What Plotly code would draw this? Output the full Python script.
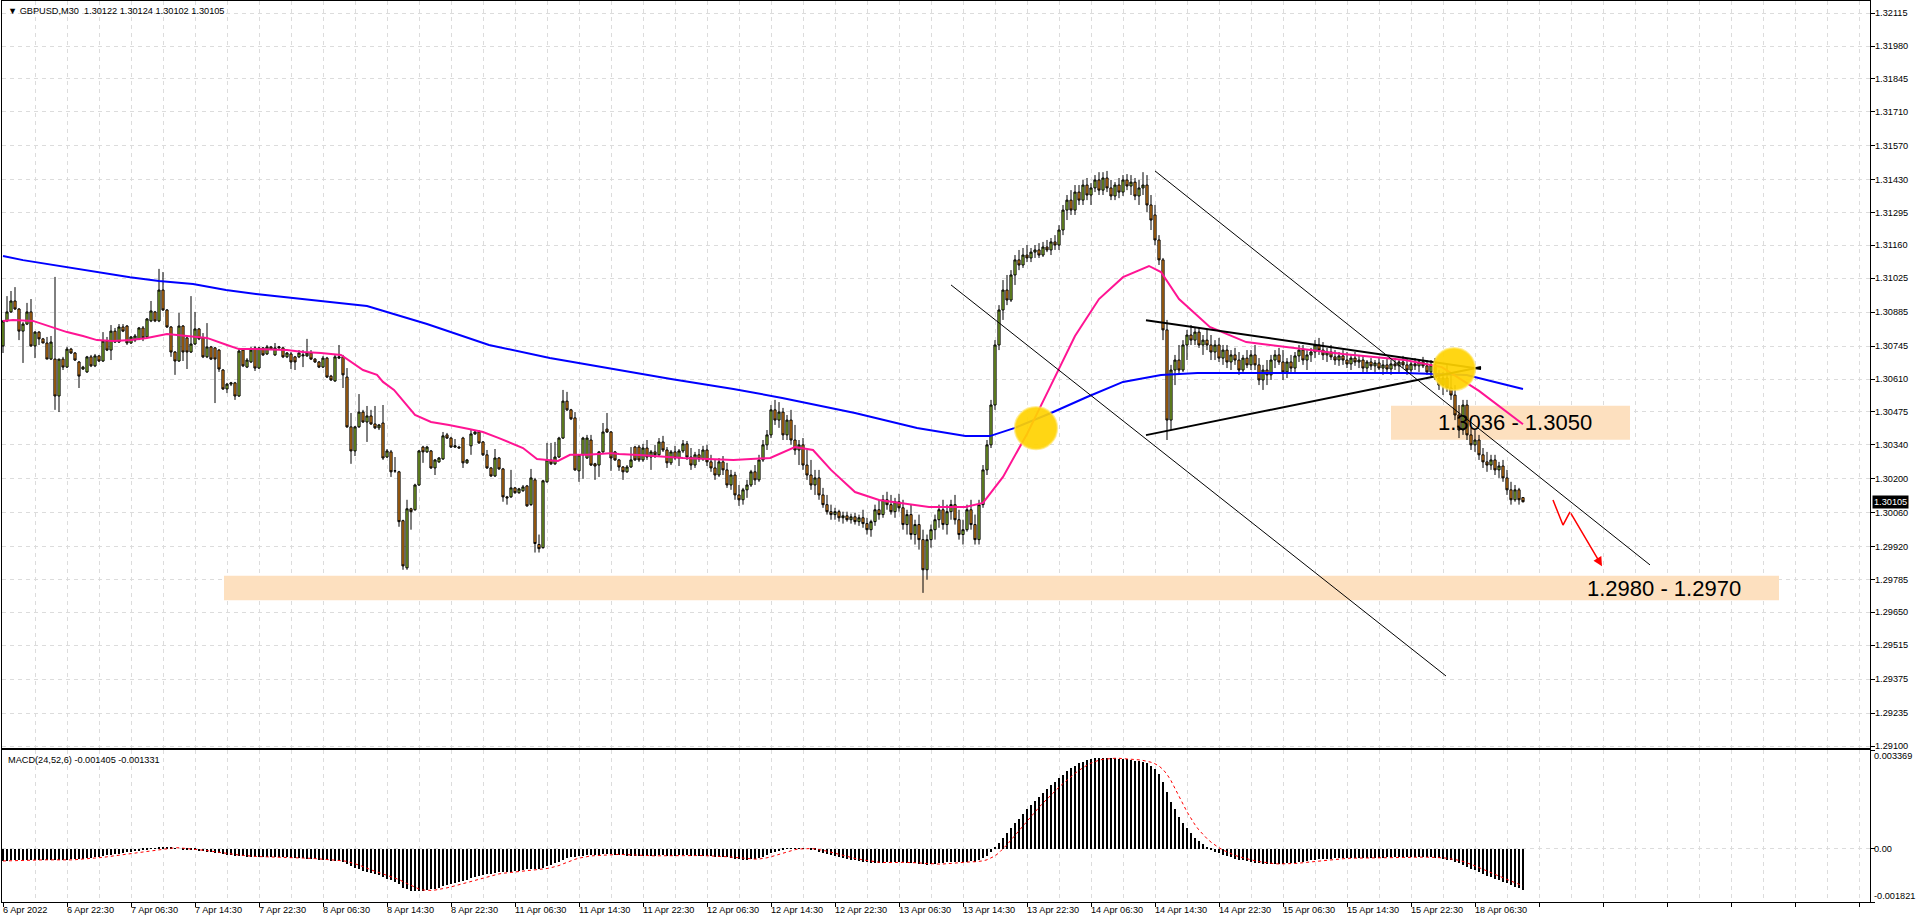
import plotly.graph_objects as go
import pandas as pd

# ---------------- data (prices given as points, 1 point = 0.00001, relative to 1.30000) ----------------
BASE = 1.30000

o_pts = [
    746, 849, 886, 931, 898, 807, 836, 886, 746, 803,
    775, 758, 692, 692, 540, 692, 659, 733, 717, 680,
    651, 639, 701, 664, 705, 684, 766, 729, 807, 762,
    824, 828, 758, 770, 775, 820, 783, 849, 886, 849,
    976, 894, 824, 721, 684, 828, 779, 721, 754, 816,
    779, 701, 742, 738, 729, 647, 569, 589, 594, 540,
    729, 659, 680, 738, 655, 738, 713, 742, 709, 738,
    738, 701, 713, 701, 701, 705, 705, 717, 692, 680,
    659, 696, 622, 602, 696, 701, 618, 413, 314, 413,
    474, 433, 458, 425, 409, 429, 289, 310, 232, 228,
    27, -167, 76, 72, 174, 330, 310, 314, 244, 269,
    281, 380, 367, 330, 330, 367, 265, 335, 384, 392,
    351, 298, 244, 211, 285, 240, 125, 125, 162, 142,
    150, 170, 93, 195, -71, -84, 187, 277, 261, 289,
    367, 519, 483, 450, 232, 298, 285, 359, 261, 256,
    310, 404, 392, 310, 277, 248, 228, 248, 330, 330,
    277, 326, 289, 310, 298, 351, 318, 265, 310, 285,
    314, 343, 289, 256, 298, 281, 318, 269, 244, 215,
    269, 236, 174, 215, 133, 113, 154, 174, 228, 195,
    277, 339, 380, 483, 441, 474, 380, 441, 359, 318,
    339, 256, 215, 174, 203, 133, 93, 64, 52, 64,
    39, 47, 31, 43, 23, 39, 15, -10, 23, 72,
    52, 113, 93, 64, 105, 80, 11, 52, -30, 11,
    -51, -175, -51, -10, 31, 72, 11, 64, 93, 31,
    -30, -10, 72, 11, -51, 93, 236, 339, 503, 750,
    894, 976, 935, 1038, 1100, 1079, 1120, 1108, 1132, 1141,
    1120, 1153, 1141, 1174, 1161, 1223, 1305, 1346, 1305, 1379,
    1346, 1408, 1367, 1396, 1429, 1387, 1437, 1396, 1363, 1408,
    1379, 1429, 1404, 1420, 1363, 1396, 1408, 1326, 1285, 1182,
    1100, 812, 441, 647, 688, 647, 750, 791, 770, 803,
    750, 770, 750, 721, 750, 696, 729, 680, 709, 688,
    647, 696, 668, 709, 668, 606, 647, 627, 688, 709,
    680, 639, 680, 655, 705, 729, 688, 709, 721, 750,
    729, 709, 721, 701, 688, 705, 688, 672, 696, 680,
    688, 655, 680, 664, 676, 655, 668, 651, 672, 664,
    680, 668, 647, 672, 664, 680, 664, 639, 668, 614,
    585, 614, 573, 544, 462, 400, 503, 380, 339, 359,
    298, 269, 256, 277, 236, 252, 203, 154, 113, 154,
    122,
]

h_pts = [
    849, 951, 972, 988, 902, 844, 923, 939, 807, 807,
    779, 783, 787, 1030, 692, 701, 742, 738, 721, 684,
    664, 705, 709, 713, 709, 803, 783, 832, 820, 836,
    836, 832, 787, 795, 824, 828, 861, 931, 890, 1063,
    1050, 898, 828, 725, 882, 832, 783, 951, 886, 820,
    799, 840, 746, 742, 733, 651, 594, 598, 598, 738,
    733, 696, 742, 746, 742, 742, 750, 746, 758, 746,
    742, 721, 721, 705, 729, 729, 775, 729, 696, 684,
    705, 701, 627, 709, 750, 709, 655, 470, 417, 548,
    483, 499, 483, 499, 425, 503, 322, 318, 289, 232,
    31, 113, 80, 179, 318, 335, 335, 318, 281, 289,
    392, 388, 372, 363, 335, 372, 281, 404, 400, 400,
    355, 318, 248, 322, 289, 244, 129, 236, 166, 162,
    174, 174, 240, 203, -30, 195, 347, 347, 351, 372,
    565, 557, 487, 474, 298, 372, 380, 380, 265, 314,
    429, 470, 396, 314, 281, 252, 256, 330, 335, 339,
    343, 359, 318, 339, 367, 376, 330, 318, 335, 322,
    359, 355, 326, 310, 322, 335, 339, 298, 277, 285,
    293, 265, 236, 228, 174, 162, 195, 236, 256, 298,
    359, 400, 503, 524, 515, 491, 462, 483, 421, 359,
    367, 318, 277, 236, 236, 162, 133, 93, 80, 72,
    64, 64, 56, 60, 52, 72, 39, 31, 93, 113,
    133, 146, 133, 121, 138, 113, 72, 93, 31, 52,
    -10, -30, 11, 52, 93, 113, 93, 113, 133, 72,
    31, 93, 113, 52, 113, 256, 359, 524, 770, 914,
    1017, 1038, 1058, 1120, 1141, 1149, 1161, 1149, 1161, 1169,
    1174, 1182, 1190, 1202, 1243, 1326, 1367, 1387, 1408, 1408,
    1429, 1437, 1416, 1449, 1461, 1461, 1466, 1429, 1420, 1437,
    1449, 1453, 1449, 1437, 1429, 1461, 1449, 1367, 1326, 1202,
    1108, 853, 668, 709, 750, 770, 812, 832, 820, 820,
    791, 812, 791, 770, 779, 750, 750, 729, 738, 721,
    709, 729, 729, 750, 696, 668, 688, 709, 729, 738,
    729, 696, 709, 721, 750, 750, 729, 738, 770, 779,
    762, 738, 750, 729, 721, 729, 721, 709, 721, 709,
    705, 688, 696, 688, 696, 688, 696, 688, 696, 688,
    705, 696, 680, 696, 688, 701, 688, 688, 696, 647,
    639, 668, 627, 585, 503, 524, 524, 409, 400, 380,
    326, 310, 298, 298, 269, 277, 236, 187, 174, 162,
    124,
]

l_pts = [
    717, 844, 882, 894, 770, 676, 832, 742, 696, 750,
    758, 692, 688, 483, 474, 647, 655, 713, 684, 573,
    647, 635, 659, 659, 680, 680, 725, 688, 758, 758,
    803, 750, 754, 762, 770, 766, 779, 844, 844, 844,
    890, 820, 701, 627, 680, 684, 651, 717, 750, 770,
    696, 696, 688, 511, 639, 565, 552, 581, 524, 536,
    659, 655, 676, 643, 651, 705, 709, 729, 705, 733,
    696, 696, 651, 647, 696, 659, 701, 688, 676, 655,
    655, 614, 602, 598, 692, 573, 409, 261, 293, 409,
    429, 351, 421, 404, 400, 277, 285, 207, 224, 2,
    -175, -175, -10, 68, 170, 265, 306, 240, 215, 265,
    277, 363, 326, 326, 326, 244, 261, 298, 380, 343,
    293, 240, 207, 207, 236, 105, 93, 121, 138, 138,
    146, 84, 88, -104, -104, -88, 183, 256, 256, 285,
    363, 478, 441, 232, 187, 199, 281, 252, 195, 207,
    306, 388, 232, 273, 232, 195, 224, 244, 273, 269,
    269, 277, 236, 285, 293, 310, 244, 256, 277, 252,
    306, 277, 236, 244, 269, 273, 252, 228, 195, 207,
    215, 162, 154, 113, 88, 93, 121, 166, 174, 187,
    269, 318, 367, 421, 409, 359, 359, 339, 298, 256,
    236, 195, 154, 133, 113, 80, 52, 31, 31, 23,
    15, 23, 15, 11, 6, -2, -30, -39, 6, 31,
    39, 72, 52, 39, 64, -10, -30, -51, -71, -92,
    -270, -216, -84, -51, -2, -10, -30, 31, 11, -51,
    -71, -18, -10, -71, -71, 80, 215, 326, 483, 729,
    853, 914, 927, 997, 1058, 1067, 1091, 1091, 1108, 1108,
    1112, 1132, 1120, 1141, 1141, 1202, 1264, 1285, 1285, 1326,
    1326, 1346, 1326, 1379, 1367, 1367, 1379, 1346, 1346, 1354,
    1363, 1387, 1367, 1346, 1326, 1367, 1297, 1223, 1161, 1079,
    770, 359, 400, 585, 627, 639, 688, 750, 750, 738,
    709, 729, 688, 688, 680, 668, 655, 647, 668, 627,
    639, 655, 647, 647, 585, 565, 585, 606, 655, 668,
    606, 614, 639, 639, 680, 668, 647, 680, 696, 709,
    688, 680, 688, 668, 664, 668, 655, 647, 664, 655,
    639, 639, 647, 639, 647, 627, 639, 627, 647, 639,
    655, 627, 631, 647, 639, 655, 627, 622, 606, 565,
    544, 557, 524, 441, 367, 380, 359, 318, 310, 277,
    244, 228, 236, 215, 203, 187, 133, 93, 105, 93,
    102,
]

c_pts = [
    849, 886, 931, 898, 807, 836, 886, 746, 803, 775,
    758, 692, 762, 540, 692, 659, 733, 717, 688, 622,
    659, 701, 664, 705, 684, 766, 729, 807, 762, 824,
    807, 758, 783, 787, 820, 779, 857, 890, 849, 976,
    894, 824, 721, 684, 828, 721, 721, 754, 816, 775,
    701, 742, 692, 692, 651, 569, 589, 594, 540, 725,
    664, 688, 729, 655, 738, 709, 742, 733, 738, 742,
    701, 717, 680, 680, 717, 709, 717, 692, 680, 659,
    696, 618, 606, 701, 701, 627, 413, 314, 413, 474,
    433, 458, 425, 409, 421, 285, 314, 228, 232, 23,
    -159, 76, 64, 174, 314, 310, 330, 244, 277, 285,
    376, 367, 330, 335, 326, 265, 277, 384, 392, 347,
    298, 244, 211, 285, 240, 125, 121, 162, 142, 158,
    166, 88, 203, -67, -88, 191, 277, 261, 289, 367,
    519, 483, 446, 236, 298, 367, 367, 256, 252, 310,
    392, 392, 285, 277, 248, 228, 248, 277, 277, 277,
    326, 289, 310, 298, 351, 318, 265, 310, 285, 314,
    343, 289, 256, 298, 281, 318, 269, 244, 215, 269,
    236, 174, 215, 133, 113, 154, 174, 228, 195, 277,
    339, 380, 483, 441, 474, 380, 441, 359, 318, 339,
    256, 215, 174, 203, 133, 93, 64, 52, 64, 39,
    47, 31, 43, 23, 39, 15, -10, 23, 72, 52,
    113, 93, 64, 105, 80, 11, 52, -30, 11, -51,
    -175, -51, -10, 31, 72, 11, 64, 93, 31, -30,
    -10, 72, 11, -51, 93, 236, 339, 503, 750, 894,
    976, 935, 1038, 1100, 1079, 1120, 1108, 1132, 1141, 1120,
    1153, 1141, 1174, 1161, 1223, 1305, 1346, 1305, 1379, 1346,
    1408, 1367, 1396, 1429, 1387, 1437, 1396, 1363, 1408, 1379,
    1429, 1404, 1420, 1363, 1396, 1408, 1326, 1264, 1182, 1100,
    812, 441, 647, 688, 647, 750, 791, 770, 803, 750,
    770, 750, 721, 750, 696, 729, 680, 709, 688, 647,
    696, 668, 709, 668, 606, 647, 627, 688, 709, 680,
    639, 680, 655, 705, 729, 688, 709, 721, 750, 729,
    709, 721, 701, 688, 705, 688, 672, 696, 680, 688,
    655, 680, 664, 676, 655, 668, 651, 672, 664, 680,
    668, 647, 672, 664, 680, 664, 639, 668, 614, 585,
    614, 573, 544, 462, 400, 503, 380, 339, 359, 298,
    269, 256, 277, 236, 252, 203, 154, 113, 154, 113,
    105,
]

# moving averages (bar index, points)
pink_x = [0, 2.5, 7.5, 12, 16, 20, 23.5, 27.5, 32, 36,
          41, 46, 51, 56, 59, 63, 71, 75, 79.5, 84.5,
          87, 90, 93.5, 95, 97.75, 100.5, 103, 107, 111.5, 116.5,
          120, 124, 127, 130, 133.5, 138.75, 141.75, 146, 151.75, 154,
          159, 170, 182.6, 191.8, 198, 202.5, 207, 213, 219, 231.5,
          240.6, 245, 250, 256, 262, 268, 274, 280, 286.5, 289.5,
          294, 301.7, 310.8, 323, 335, 350.5, 359.7, 369, 380]
pink_pts = [849, 853, 849, 824, 803, 787, 770, 766, 770, 779,
            795, 787, 779, 750, 733, 733, 729, 721, 717, 709,
            680, 647, 627, 598, 565, 511, 462, 433, 421, 404,
            392, 367, 347, 326, 281, 273, 298, 298, 305, 301,
            297, 285, 277, 285, 330, 318, 236, 145, 112, 83,
            83, 100, 207, 384, 585, 787, 939, 1029, 1075, 1050,
            939, 824, 762, 737, 713, 688, 659, 561, 424]
blue_x = [0, 5, 31.75, 39, 47.5, 55.75, 63.25, 91, 106, 121.5,
          136.7, 152, 167, 182.6, 194.8, 213, 228.5, 240.6, 246.7, 252.8,
          262, 271, 280, 289.5, 298.6, 320, 350.5, 365.9, 380]
blue_pts = [1116, 1099, 1029, 1013, 1001, 976, 960, 910, 836, 750,
            696, 651, 610, 569, 532, 470, 408, 375, 375, 408,
            470, 536, 598, 626, 635, 635, 635, 626, 569]

# MACD(24,52,6) main values, in units of 0.0001
macd_e4 = [
    -4.2, -4.1, -3.9, -3.8, -3.8, -3.9, -3.8, -3.7, -3.8, -3.8,
    -3.8, -3.9, -3.9, -4.0, -4.0, -3.8, -3.7, -3.6, -3.5, -3.5,
    -3.4, -3.2, -3.1, -2.9, -2.7, -2.5, -2.3, -2.1, -1.9, -1.7,
    -1.5, -1.3, -1.1, -0.9, -0.7, -0.5, -0.3, -0.1, 0.1, 0.4,
    0.5, 0.5, 0.3, 0.1, 0.0, -0.2, -0.3, -0.5, -0.6, -0.7,
    -0.9, -1.0, -1.2, -1.4, -1.6, -1.9, -2.1, -2.3, -2.5, -2.6,
    -2.6, -2.7, -2.7, -2.8, -2.8, -2.8, -2.8, -2.8, -2.8, -2.9,
    -2.9, -3.0, -3.1, -3.2, -3.3, -3.3, -3.4, -3.5, -3.6, -3.7,
    -3.8, -3.9, -4.1, -4.2, -4.3, -4.5, -5.1, -6.0, -6.6, -7.1,
    -7.5, -8.0, -8.4, -8.8, -9.1, -9.7, -10.2, -10.8, -11.3, -12.2,
    -13.3, -13.9, -14.3, -14.5, -14.4, -14.3, -14.1, -13.9, -13.6, -13.3,
    -12.9, -12.5, -12.1, -11.7, -11.3, -11.0, -10.6, -10.1, -9.7, -9.3,
    -9.0, -8.7, -8.5, -8.2, -8.0, -8.0, -7.9, -7.8, -7.6, -7.5,
    -7.3, -7.1, -6.9, -7.0, -7.0, -6.6, -6.0, -5.5, -5.0, -4.4,
    -3.7, -3.2, -2.8, -2.7, -2.6, -2.4, -2.2, -2.2, -2.2, -2.1,
    -1.9, -1.8, -1.9, -2.0, -2.1, -2.3, -2.4, -2.5, -2.5, -2.5,
    -2.5, -2.5, -2.4, -2.4, -2.3, -2.3, -2.4, -2.4, -2.4, -2.3,
    -2.3, -2.3, -2.4, -2.4, -2.4, -2.4, -2.5, -2.6, -2.7, -2.8,
    -2.9, -3.0, -3.2, -3.4, -3.6, -3.7, -3.7, -3.6, -3.4, -3.1,
    -2.7, -2.2, -1.6, -1.1, -0.7, -0.4, -0.1, 0.1, 0.2, 0.2,
    0.1, 0.0, -0.3, -0.6, -1.0, -1.4, -1.8, -2.2, -2.6, -2.9,
    -3.2, -3.5, -3.8, -4.0, -4.2, -4.4, -4.6, -4.8, -4.9, -4.9,
    -4.8, -4.7, -4.6, -4.6, -4.6, -4.7, -4.8, -4.9, -5.0, -5.1,
    -5.4, -5.5, -5.4, -5.2, -5.0, -4.9, -4.7, -4.5, -4.5, -4.6,
    -4.6, -4.4, -4.3, -4.4, -4.0, -3.3, -2.4, -1.2, 0.46, 2.1,
    3.8, 5.4, 7.1, 8.6, 10.3, 11.9, 13.4, 14.9, 16.4, 17.8,
    19.1, 20.4, 21.7, 22.9, 24.0, 25.2, 26.4, 27.4, 28.3, 29.1,
    29.7, 30.2, 30.5, 30.8, 31.0, 30.9, 30.9, 30.8, 30.8, 30.7,
    30.6, 30.5, 30.3, 30.1, 29.8, 29.5, 29.1, 28.3, 27.1, 25.4,
    22.9, 19.5, 16.1, 13.4, 10.9, 8.7, 6.9, 5.2, 3.8, 2.6,
    1.5, 0.6, -0.3, -1.0, -1.6, -2.1, -2.6, -3.0, -3.4, -3.7,
    -4.0, -4.3, -4.6, -4.8, -5.0, -5.2, -5.3, -5.3, -5.3, -5.2,
    -5.1, -5.0, -4.9, -4.8, -4.6, -4.4, -4.2, -4.0, -3.8, -3.6,
    -3.5, -3.4, -3.4, -3.3, -3.3, -3.2, -3.2, -3.2, -3.2, -3.2,
    -3.2, -3.1, -3.1, -3.1, -3.1, -3.1, -3.0, -3.0, -3.0, -3.0,
    -2.9, -2.9, -2.9, -2.9, -2.9, -2.9, -2.9, -3.0, -3.1, -3.3,
    -3.5, -3.7, -4.0, -4.4, -5.0, -5.5, -6.1, -6.8, -7.4, -8.0,
    -8.6, -9.2, -9.8, -10.3, -10.8, -11.3, -11.8, -12.4, -13.0, -13.5,
    -14.05,
]

time_labels = ["6 Apr 2022", "6 Apr 22:30", "7 Apr 06:30", "7 Apr 14:30", "7 Apr 22:30",
               "8 Apr 06:30", "8 Apr 14:30", "8 Apr 22:30", "11 Apr 06:30", "11 Apr 14:30",
               "11 Apr 22:30", "12 Apr 06:30", "12 Apr 14:30", "12 Apr 22:30", "13 Apr 06:30",
               "13 Apr 14:30", "13 Apr 22:30", "14 Apr 06:30", "14 Apr 14:30", "14 Apr 22:30",
               "15 Apr 06:30", "15 Apr 14:30", "15 Apr 22:30", "18 Apr 06:30"]
BARS_PER_LABEL = 16

price_labels = ["1.32115", "1.31980", "1.31845", "1.31710", "1.31570", "1.31430", "1.31295",
                "1.31160", "1.31025", "1.30885", "1.30745", "1.30610", "1.30475", "1.30340",
                "1.30200", "1.30060", "1.29920", "1.29785", "1.29650", "1.29515", "1.29375",
                "1.29235", "1.29100"]
macd_labels = ["0.003369", "0.00", "-0.001821"]

zone_hi = (1.3036, 1.3050)
zone_lo = (1.2970, 1.2980)
header = "GBPUSD,M30  1.30122 1.30124 1.30102 1.30105"
macd_header = "MACD(24,52,6) -0.001405 -0.001331"
last_price = 1.30105

# trend lines: (bar, price)
channel_up = [(288, 1.31466), (411.75, 1.29845)]
channel_dn = [(237, 1.30997), (360.75, 1.29388)]
tri_up = [(285.75, 1.30852), (369.5, 1.30651)]
tri_dn = [(285.75, 1.30379), (369.5, 1.30659)]
circles = [(258.25, 1.30408), (362.75, 1.30651)]
arrow_x = [387.5, 390, 391.75, 399.75]
arrow_y = [1.30112, 1.30009, 1.30063, 1.29840]
zone_hi_x = (347, 406.75)
zone_lo_x = (55.25, 444)

# ---------------- build ----------------
n = min(len(o_pts), len(h_pts), len(l_pts), len(c_pts))
xs = list(range(n))


def to_price(pts):
    return [BASE + p / 1e5 for p in pts]


opn, hig, low, cls = (to_price(a[:n]) for a in (o_pts, h_pts, l_pts, c_pts))
macd = [v * 1e-4 for v in macd_e4]
signal = pd.Series(macd).rolling(6, min_periods=1).mean().tolist()

FONT = "Liberation Sans"
FS = 9.2
GRID = "#dcdcdc"

fig = go.Figure()
fig.add_trace(go.Candlestick(
    x=xs, open=opn, high=hig, low=low, close=cls, xaxis="x", yaxis="y",
    increasing=dict(line=dict(color="black", width=1), fillcolor="#9acd32"),
    decreasing=dict(line=dict(color="black", width=1), fillcolor="#f39019"),
    whiskerwidth=0, showlegend=False, hoverinfo="skip"))
fig.add_trace(go.Scatter(x=blue_x, y=to_price(blue_pts), mode="lines",
                         line=dict(color="#0000ff", width=2),
                         xaxis="x", yaxis="y", showlegend=False, hoverinfo="skip"))
fig.add_trace(go.Scatter(x=pink_x, y=to_price(pink_pts), mode="lines",
                         line=dict(color="#ff1493", width=2),
                         xaxis="x", yaxis="y", showlegend=False, hoverinfo="skip"))
fig.add_trace(go.Scatter(x=arrow_x[:3], y=arrow_y[:3], mode="lines",
                         line=dict(color="#ff0000", width=1.5),
                         xaxis="x", yaxis="y", showlegend=False, hoverinfo="skip"))
fig.add_trace(go.Bar(x=list(range(len(macd))), y=macd, marker=dict(color="black", line=dict(width=0)),
                     width=0.5, xaxis="x2", yaxis="y2", showlegend=False, hoverinfo="skip"))
fig.add_trace(go.Scatter(x=list(range(len(signal))), y=signal, mode="lines",
                         line=dict(color="#ff0000", width=1, dash="dot"),
                         xaxis="x2", yaxis="y2", showlegend=False, hoverinfo="skip"))

shapes = []
for (x0, x1), (y0, y1) in [(zone_hi_x, zone_hi), (zone_lo_x, zone_lo)]:
    shapes.append(dict(type="rect", xref="x", yref="y", x0=x0, x1=x1, y0=y0, y1=y1,
                       fillcolor="#fde0bf", line=dict(width=0), layer="between"))
for pts, w in [(channel_up, 1), (channel_dn, 1), (tri_up, 2), (tri_dn, 2)]:
    shapes.append(dict(type="line", xref="x", yref="y", x0=pts[0][0], y0=pts[0][1],
                       x1=pts[1][0], y1=pts[1][1], line=dict(color="black", width=w)))
for cx, cy in circles:
    shapes.append(dict(type="circle", xref="x", yref="y", x0=cx - 5.3, x1=cx + 5.3,
                       y0=cy - 0.00087, y1=cy + 0.00087, fillcolor="rgba(255,210,0,0.92)",
                       line=dict(color="rgba(255,225,80,0.6)", width=2), layer="above"))

small = dict(family=FONT, size=FS, color="black")
ann = []
for k, lab in enumerate(time_labels):
    ann.append(dict(x=k * BARS_PER_LABEL, y=0, xref="x2", yref="paper", text=lab,
                    showarrow=False, xanchor="left", yanchor="top", yshift=-2, xshift=-1,
                    borderpad=0, font=small))
for lab in price_labels:
    ann.append(dict(x=1, y=float(lab), xref="paper", yref="y", text=lab, showarrow=False,
                    xanchor="left", yanchor="middle", xshift=4, borderpad=0, font=small))
for lab, anc in zip(macd_labels, ["top", "middle", "bottom"]):
    ann.append(dict(x=1, y=float(lab), xref="paper", yref="y2", text=lab, showarrow=False,
                    xanchor="left", yanchor=anc, xshift=3, borderpad=0, font=small))
ann.append(dict(x=0.002, y=1, xref="paper", yref="paper", text="\u25BC " + header, showarrow=False,
                xanchor="left", yanchor="top", yshift=-3, font=small))
ann.append(dict(x=0.002, y=macd_dom_top if False else (902 - 750) / 901, xref="paper", yref="paper",
                text=macd_header, showarrow=False, xanchor="left", yanchor="top", yshift=-3, font=small))
ann.append(dict(x=zone_hi_x[1] - 9, y=sum(zone_hi) / 2, xref="x", yref="y", text="1.3036 - 1.3050",
                showarrow=False, xanchor="right", yanchor="middle",
                font=dict(family=FONT, size=22, color="black")))
ann.append(dict(x=zone_lo_x[1] - 9, y=sum(zone_lo) / 2, xref="x", yref="y", text="1.2980 - 1.2970",
                showarrow=False, xanchor="right", yanchor="middle",
                font=dict(family=FONT, size=22, color="black")))
ann.append(dict(x=arrow_x[3], y=arrow_y[3], ax=arrow_x[2], ay=arrow_y[2], xref="x", yref="y",
                axref="x", ayref="y", showarrow=True, arrowhead=2, arrowsize=1.2, arrowwidth=1.5,
                arrowcolor="#ff0000", text=""))
ann.append(dict(x=1, y=last_price, xref="paper", yref="y", text="%.5f" % last_price, showarrow=False,
                xanchor="left", yanchor="middle", xshift=2, bgcolor="black", borderpad=1,
                font=dict(family=FONT, size=FS, color="white")))

main_dom = [(902 - 748) / 901, 1.0]
macd_dom = [0.0, (902 - 750) / 901]

fig.update_layout(
    width=1916, height=923, margin=dict(l=2, r=46, t=1, b=21),
    paper_bgcolor="white", plot_bgcolor="white", boxgap=0.22, bargap=0,
    font=dict(family=FONT, size=FS, color="black"),
    shapes=shapes, annotations=ann, showlegend=False, hovermode=False,
    xaxis=dict(domain=[0, 1], anchor="y", range=[-0.25, 466.75], rangeslider=dict(visible=False),
               tickmode="linear", tick0=0, dtick=8, showticklabels=False, ticks="",
               showgrid=True, gridcolor=GRID, griddash="4px,4px", gridwidth=1,
               showline=True, linecolor="black", linewidth=1, mirror=True, zeroline=False),
    yaxis=dict(domain=main_dom, anchor="x", side="right", range=[1.290918, 1.321652],
               tickmode="array", tickvals=[float(v) for v in price_labels], showticklabels=False,
               ticks="outside", ticklen=4, tickcolor="black", showgrid=True, gridcolor=GRID,
               griddash="4px,4px", showline=True, linecolor="black", linewidth=1, mirror=True,
               zeroline=False),
    xaxis2=dict(domain=[0, 1], anchor="y2", matches="x", range=[-0.25, 466.75],
                tickmode="linear", tick0=0, dtick=16, showticklabels=False, ticks="outside",
                ticklen=4, tickcolor="black", showgrid=True, gridcolor=GRID, griddash="4px,4px",
                minor=dict(tick0=0, dtick=8, showgrid=True, gridcolor=GRID, griddash="4px,4px", ticks=""),
                showline=True, linecolor="black", linewidth=1, mirror=True, zeroline=False),
    yaxis2=dict(domain=macd_dom, anchor="x2", side="right", range=[-0.001821, 0.003369],
                tickmode="array", tickvals=[float(v) for v in macd_labels], showticklabels=False,
                ticks="outside", ticklen=4, tickcolor="black", showgrid=True, gridcolor=GRID,
                griddash="4px,4px", showline=True, linecolor="black", linewidth=1, mirror=True,
                zeroline=False),
)

fig.write_html("out.html", config={"displayModeBar": False},
               post_script="document.body.style.margin='0px';document.body.style.overflow='hidden';")
